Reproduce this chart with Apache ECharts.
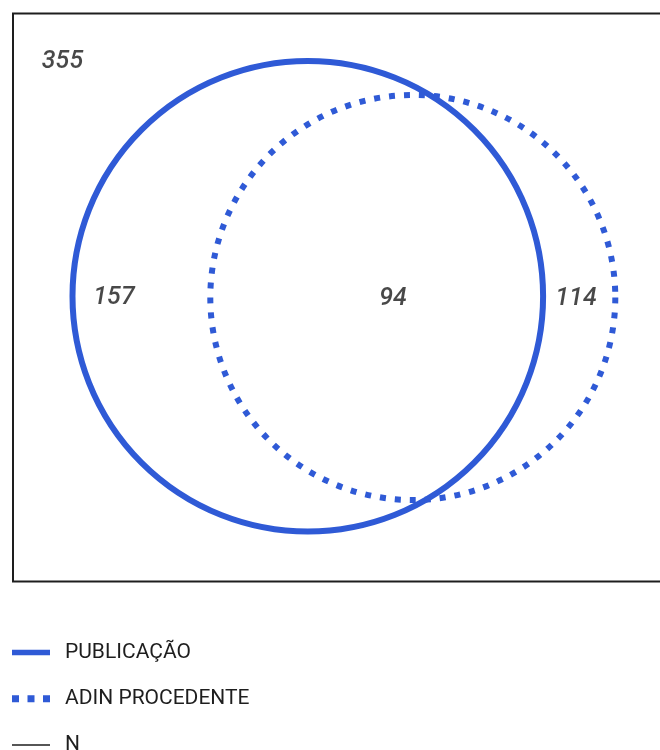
<!DOCTYPE html>
<html>
<head>
<meta charset="utf-8">
<script src="https://cdn.jsdelivr.net/npm/echarts@6/dist/echarts.min.js"></script>
<style>
  html, body { margin: 0; padding: 0; background: #ffffff; }
  #chart { width: 660px; height: 750px; }
</style>
</head>
<body>
<div id="chart"></div>
<script>
// ---- data ----
const setNames = ['PUBLICAÇÃO', 'ADIN PROCEDENTE'];
const universeName = 'N';
const regionNames = ['N', 'PUBLICAÇÃO only', 'PUBLICAÇÃO ∩ ADIN PROCEDENTE', 'ADIN PROCEDENTE only'];
const regionCounts = [355, 157, 94, 114];

// ---- layout (data units of the universe rectangle) ----
const universe = { w: 687, h: 568 };
const circleLayout = [
  { cx: 294.8, cy: 282.8, r: 235.3 },  // PUBLICAÇÃO
  { cx: 399.8, cy: 284.0, r: 202.5 }   // ADIN PROCEDENTE
];
const labelLayout = [
  [49.5, 48.5], [101, 284], [380, 285], [563, 285]
];

const BLUE = '#2f5ad6';
const INK = '#1e1e1e';

const chart = echarts.init(document.getElementById('chart'), null, { renderer: 'canvas' });

function circleSeries(i, dashed) {
  return {
    type: 'custom',
    name: setNames[i],
    coordinateSystem: 'cartesian2d',
    itemStyle: { color: BLUE },
    silent: true,
    data: [[circleLayout[i].cx, circleLayout[i].cy, circleLayout[i].r]],
    renderItem: function (params, api) {
      const c = api.coord([api.value(0), api.value(1)]);
      const r = api.size([api.value(2), 0])[0];
      return {
        type: 'circle',
        shape: { cx: c[0], cy: c[1], r: r },
        style: {
          fill: 'none',
          stroke: BLUE,
          lineWidth: 6,
          lineDash: dashed ? [6, 9] : null,
          lineCap: 'butt'
        }
      };
    }
  };
}

const option = {
  animation: false,
  backgroundColor: '#ffffff',
  grid: { left: 13, top: 13.5, right: -40, bottom: 168.5, show: false, outerBoundsMode: 'none', containLabel: false },
  xAxis: { type: 'value', min: 0, max: universe.w, show: false },
  yAxis: { type: 'value', min: 0, max: universe.h, inverse: true, show: false },
  legend: {
    orient: 'vertical',
    left: 12,
    top: 642,
    height: 200,
    padding: 0,
    itemWidth: 38,
    itemHeight: 20,
    itemGap: 25.3,
    selectedMode: false,
    textStyle: {
      fontFamily: 'Roboto',
      fontSize: 21,
      lineHeight: 20,
      color: INK,
      padding: [0, 0, 0, 10]
    },
    data: [
      { name: setNames[0], icon: 'path://M0,0h39v5.5h-39z' },
      { name: setNames[1], icon: 'path://M0,0h7v7h-7zM15.5,0h7v7h-7zM31,0h7v7h-7z' },
      { name: universeName, icon: 'path://M0,0h38v1.5h-38z' }
    ]
  },
  series: [
    {
      type: 'custom',
      name: universeName,
      coordinateSystem: 'cartesian2d',
      itemStyle: { color: INK },
      silent: true,
      data: [[0, 0, universe.w, universe.h]],
      renderItem: function (params, api) {
        const p0 = api.coord([api.value(0), api.value(1)]);
        const p1 = api.coord([api.value(2), api.value(3)]);
        return {
          type: 'rect',
          shape: { x: p0[0], y: p0[1], width: p1[0] - p0[0], height: p1[1] - p0[1] },
          style: { fill: 'none', stroke: INK, lineWidth: 2 }
        };
      }
    },
    circleSeries(0, false),
    circleSeries(1, true),
    {
      type: 'scatter',
      name: 'counts',
      symbolSize: 0,
      silent: true,
      data: regionCounts.map(function (v, i) {
        return { name: regionNames[i], value: [labelLayout[i][0], labelLayout[i][1], v] };
      }),
      label: {
        show: true,
        position: 'inside',
        formatter: function (p) { return String(p.value[2]); },
        fontFamily: 'Roboto',
        fontStyle: 'italic',
        fontWeight: 500,
        fontSize: 25,
        color: '#1a1a1a'
      }
    }
  ]
};

chart.setOption(option);
</script>
</body>
</html>
